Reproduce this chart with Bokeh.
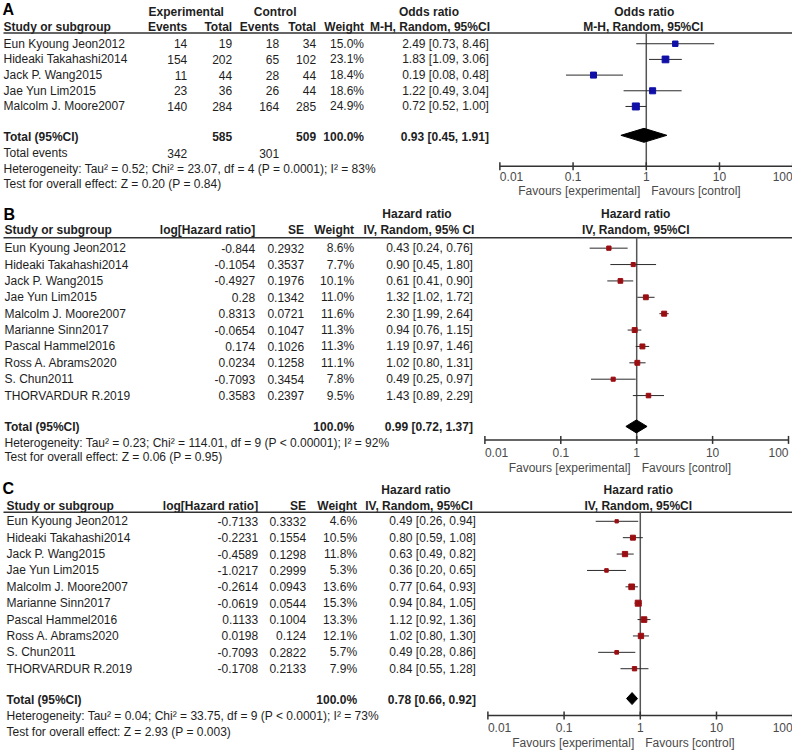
from bokeh.plotting import figure
from bokeh.models import Range1d, LogScale, ColumnDataSource
from bokeh.embed import file_html
from bokeh.resources import INLINE
from bokeh.core.properties import value

# ---------------- data ----------------
studies5 = ["Eun Kyoung Jeon2012", "Hideaki Takahashi2014", "Jack P. Wang2015",
            "Jae Yun Lim2015", "Malcolm J. Moore2007"]
studies10 = ["Eun Kyoung Jeon2012", "Hideaki Takahashi2014", "Jack P. Wang2015",
             "Jae Yun Lim2015", "Malcolm J. Moore2007", "Marianne Sinn2017",
             "Pascal Hammel2016", "Ross A. Abrams2020", "S. Chun2011", "THORVARDUR R.2019"]

A_exp_events = [14, 154, 11, 23, 140]
A_exp_total = [19, 202, 44, 36, 284]
A_ctl_events = [18, 65, 28, 26, 164]
A_ctl_total = [34, 102, 44, 44, 285]
A_weight = [15.0, 23.1, 18.4, 18.6, 24.9]
A_or = [2.49, 1.83, 0.19, 1.22, 0.72]
A_lo = [0.73, 1.09, 0.08, 0.49, 0.52]
A_hi = [8.46, 3.06, 0.48, 3.04, 1.00]
A_tot = [0.93, 0.45, 1.91]
A_tot_n = [585, 509]
A_tot_events = [342, 301]
A_het = "Heterogeneity: Tau\u00b2 = 0.52; Chi\u00b2 = 23.07, df = 4 (P = 0.0001); I\u00b2 = 83%"
A_test = "Test for overall effect: Z = 0.20 (P = 0.84)"

B_loghr = [-0.844, -0.1054, -0.4927, 0.28, 0.8313, -0.0654, 0.174, 0.0234, -0.7093, 0.3583]
B_se = [0.2932, 0.3537, 0.1976, 0.1342, 0.0721, 0.1047, 0.1026, 0.1258, 0.3454, 0.2397]
B_weight = [8.6, 7.7, 10.1, 11.0, 11.6, 11.3, 11.3, 11.1, 7.8, 9.5]
B_hr = [0.43, 0.90, 0.61, 1.32, 2.30, 0.94, 1.19, 1.02, 0.49, 1.43]
B_lo = [0.24, 0.45, 0.41, 1.02, 1.99, 0.76, 0.97, 0.80, 0.25, 0.89]
B_hi = [0.76, 1.80, 0.90, 1.72, 2.64, 1.15, 1.46, 1.31, 0.97, 2.29]
B_tot = [0.99, 0.72, 1.37]
B_het = "Heterogeneity: Tau\u00b2 = 0.23; Chi\u00b2 = 114.01, df = 9 (P < 0.00001); I\u00b2 = 92%"
B_test = "Test for overall effect: Z = 0.06 (P = 0.95)"

C_loghr = [-0.7133, -0.2231, -0.4589, -1.0217, -0.2614, -0.0619, 0.1133, 0.0198, -0.7093, -0.1708]
C_se = [0.3332, 0.1554, 0.1298, 0.2999, 0.0943, 0.0544, 0.1004, 0.124, 0.2822, 0.2133]
C_weight = [4.6, 10.5, 11.8, 5.3, 13.6, 15.3, 13.3, 12.1, 5.7, 7.9]
C_hr = [0.49, 0.80, 0.63, 0.36, 0.77, 0.94, 1.12, 1.02, 0.49, 0.84]
C_lo = [0.26, 0.59, 0.49, 0.20, 0.64, 0.84, 0.92, 0.80, 0.28, 0.55]
C_hi = [0.94, 1.08, 0.82, 0.65, 0.93, 1.05, 1.36, 1.30, 0.86, 1.28]
C_tot = [0.78, 0.66, 0.92]
C_het = "Heterogeneity: Tau\u00b2 = 0.04; Chi\u00b2 = 33.75, df = 9 (P < 0.0001); I\u00b2 = 73%"
C_test = "Test for overall effect: Z = 2.93 (P = 0.003)"

tick_values = [0.01, 0.1, 1, 10, 100]
tick_labels = ["0.01", "0.1", "1", "10", "100"]

# ---------------- styling / layout ----------------
W, H = 792, 750
REF_W, REF_H = 793, 751
FONT = "Liberation Sans"
FS = "12px"
TXT = "#1e1e1e"
GRAY = "#4a4a4a"
BLUE = "#1010a8"
RED = "#9a0e12"

p = figure(width=W, height=H, x_range=Range1d(0, REF_W), y_range=Range1d(REF_H, 0),
           x_axis_type=None, y_axis_type=None, toolbar_location=None,
           output_backend="svg", min_border=0)
p.outline_line_color = None
p.xgrid.visible = False
p.ygrid.visible = False
p.background_fill_color = "white"


def log_range(a0, d):
    # maps 0.01 to reference pixel a0, one decade spans d pixels
    return Range1d(start=10 ** (-2 - a0 / d), end=10 ** (-2 + (REF_W - a0) / d))


p.extra_x_ranges = {"A": log_range(500, 73.3), "B": log_range(485, 76.0), "C": log_range(488, 76.3)}
p.extra_x_scales = {"A": LogScale(), "B": LogScale(), "C": LogScale()}


def txt(xs, ys, texts, align="left", bold=False, size=FS, color=TXT, rn="default", xoff=0):
    if not isinstance(xs, list):
        xs = [xs] * len(texts)
    if not isinstance(ys, list):
        ys = [ys] * len(texts)
    src = ColumnDataSource(dict(x=xs, y=ys, t=texts))
    p.text(x="x", y="y", text="t", source=src, text_align=align, text_baseline="middle",
           text_font=value(FONT), text_font_size=value(size),
           text_font_style="bold" if bold else "normal", text_color=color,
           x_offset=xoff, x_range_name=rn)


def ci_str(e, l, h):
    return f"{e:.2f} [{l:.2f}, {h:.2f}]"


def forest(rn, ys, est, lo, hi, weight, color, kmax, tot, ytot, dh, y_top, y_axis, lab_dy, fav_dy):
    wmax = max(weight)
    sizes = [kmax * (w / wmax) ** 0.5 for w in weight]
    # vertical line of no effect
    p.segment(x0=[1], x1=[1], y0=[y_top], y1=[y_axis], x_range_name=rn,
              line_color="#555555", line_width=1.5)
    # CIs
    p.segment(x0=lo, x1=hi, y0=ys, y1=ys, x_range_name=rn, line_color="#2a2a2a", line_width=1)
    p.scatter(x=est, y=ys, size=sizes, marker="square", fill_color=color,
              line_color=color, x_range_name=rn)
    # pooled diamond
    e, l, h = tot
    p.patch(x=[l, e, h, e], y=[ytot, ytot - dh, ytot, ytot + dh], x_range_name=rn,
            fill_color="black", line_color="black")
    # axis
    p.segment(x0=[tick_values[0]], x1=[tick_values[-1]], y0=[y_axis], y1=[y_axis],
              x_range_name=rn, line_color="#333333", line_width=1.5)
    p.segment(x0=tick_values, x1=tick_values, y0=[y_axis - 4] * 5, y1=[y_axis + 4] * 5,
              x_range_name=rn, line_color="#333333", line_width=1.5)
    yl = y_axis + lab_dy
    txt([tick_values[0]], [yl], [tick_labels[0]], align="left", color=GRAY, rn=rn)
    txt(tick_values[1:-1], [yl] * 3, tick_labels[1:-1], align="center", color=GRAY, rn=rn)
    txt([tick_values[-1]], [yl], [tick_labels[-1]], align="right", color=GRAY, rn=rn)
    yf = y_axis + fav_dy
    txt([1], [yf], ["Favours [experimental]"], align="right", color=GRAY, rn=rn, xoff=-6)
    txt([1], [yf], ["Favours [control]"], align="left", color=GRAY, rn=rn, xoff=5)


def underline(y):
    p.segment(x0=[3], x1=[REF_W], y0=[y], y1=[y], line_color="#333333", line_width=1.5)


# ================= Panel A =================
ys = [43.3 + i * 15.7 for i in range(len(studies5))]
txt(2, 9, ["A"], bold=True, size="16px", color="black")
txt(186, 12, ["Experimental"], align="center", bold=True)
txt(275, 12, ["Control"], align="center", bold=True)
txt(429, 12, ["Odds ratio"], align="center", bold=True)
txt([1], [12], ["Odds ratio"], align="center", bold=True, rn="A", xoff=-2)
txt(3, 27, ["Study or subgroup"], bold=True)
txt([187, 232, 279, 316, 364], 27, ["Events", "Total", "Events", "Total", "Weight"],
    align="right", bold=True)
txt(430, 27, ["M-H, Random, 95%CI"], align="center", bold=True)
txt([1], [27], ["M-H, Random, 95%CI"], align="center", bold=True, rn="A", xoff=-3)
underline(32.5)
txt(3, ys, studies5)
txt(187, ys, [str(v) for v in A_exp_events], align="right")
txt(232, ys, [str(v) for v in A_exp_total], align="right")
txt(279, ys, [str(v) for v in A_ctl_events], align="right")
txt(316, ys, [str(v) for v in A_ctl_total], align="right")
txt(364, ys, [f"{w:.1f}%" for w in A_weight], align="right")
txt(489, ys, [ci_str(e, l, h) for e, l, h in zip(A_or, A_lo, A_hi)], align="right")
txt(3, 136.5, ["Total (95%CI)"], bold=True)
txt([232, 316], 136.5, [str(v) for v in A_tot_n], align="right", bold=True)
txt(364, 136.5, ["100.0%"], align="right", bold=True)
txt(489, 136.5, [ci_str(*A_tot)], align="right", bold=True)
txt(3, 153, ["Total events"])
txt([187, 279], 153, [str(v) for v in A_tot_events], align="right")
txt(3, 169, [A_het])
txt(3, 183.5, [A_test])
forest("A", ys, A_or, A_lo, A_hi, A_weight, BLUE, 7, A_tot, 135, 7, 32.5, 166, 10, 25)

# ================= Panel B =================
ys = [248 + i * 16.4 for i in range(len(studies10))]
txt(3, 214, ["B"], bold=True, size="16px", color="black")
txt(417, 214, ["Hazard ratio"], align="center", bold=True)
txt([1], [214], ["Hazard ratio"], align="center", bold=True, rn="B", xoff=-1)
txt(4, 230, ["Study or subgroup"], bold=True)
txt([255, 304, 354], 230, ["log[Hazard ratio]", "SE", "Weight"], align="right", bold=True)
txt(419, 230, ["IV, Random, 95% CI"], align="center", bold=True)
txt([1], [230], ["IV, Random, 95%CI"], align="center", bold=True, rn="B", xoff=-1)
underline(237.5)
txt(4, ys, studies10)
txt(255, ys, [str(v) for v in B_loghr], align="right")
txt(304, ys, [str(v) for v in B_se], align="right")
txt(354, ys, [f"{w:.1f}%" for w in B_weight], align="right")
txt(473, ys, [ci_str(e, l, h) for e, l, h in zip(B_hr, B_lo, B_hi)], align="right")
txt(4, 427, ["Total (95%CI)"], bold=True)
txt(354, 427, ["100.0%"], align="right", bold=True)
txt(473, 427, [ci_str(*B_tot)], align="right", bold=True)
txt(4, 443, [B_het])
txt(4, 457.5, [B_test])
forest("B", ys, B_hr, B_lo, B_hi, B_weight, RED, 5, B_tot, 426.5, 6.5, 237.5, 440, 13, 28)

# ================= Panel C =================
ys = [521.5 + i * 16.4 for i in range(len(studies10))]
txt(2, 489, ["C"], bold=True, size="16px", color="black")
txt(416, 490, ["Hazard ratio"], align="center", bold=True)
txt([1], [490], ["Hazard ratio"], align="center", bold=True, rn="C", xoff=-2)
txt(6, 506, ["Study or subgroup"], bold=True)
txt([258, 306, 357], 506, ["log[Hazard ratio]", "SE", "Weight"], align="right", bold=True)
txt(419, 506, ["IV, Random, 95%CI"], align="center", bold=True)
txt([1], [506], ["IV, Random, 95%CI"], align="center", bold=True, rn="C", xoff=-2)
underline(512.5)
txt(6, ys, studies10)
txt(258, ys, [str(v) for v in C_loghr], align="right")
txt(306, ys, [str(v) for v in C_se], align="right")
txt(357, ys, [f"{w:.1f}%" for w in C_weight], align="right")
txt(476, ys, [ci_str(e, l, h) for e, l, h in zip(C_hr, C_lo, C_hi)], align="right")
txt(6, 700, ["Total (95%CI)"], bold=True)
txt(357, 700, ["100.0%"], align="right", bold=True)
txt(476, 700, [ci_str(*C_tot)], align="right", bold=True)
txt(6, 716.5, [C_het])
txt(6, 732, [C_test])
forest("C", ys, C_hr, C_lo, C_hi, C_weight, RED, 6, C_tot, 699, 6, 512.5, 716, 12, 27)

open("out.html", "w").write(file_html(p, INLINE))
